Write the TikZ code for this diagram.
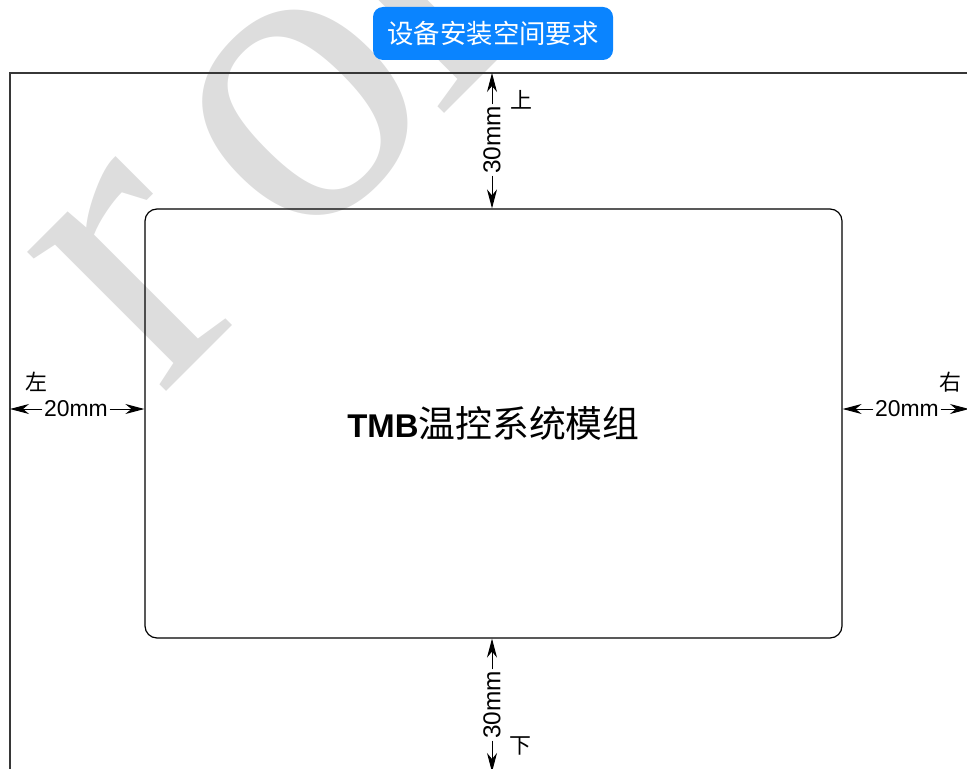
\documentclass[tikz,border=0pt]{standalone}
\usepackage{fontspec}
\usepackage{tikz}
\usetikzlibrary{positioning, arrows.meta, shapes}
\setmainfont{Liberation Sans}
\newfontfamily\cjk{Noto Sans CJK SC}
\newfontfamily\wmfont{Liberation Serif}
\definecolor{titleblue}{RGB}{10,132,255}
\definecolor{framegray}{RGB}{55,55,55}
\definecolor{wmgray}{RGB}{221,221,221}
\tikzset{
  dimline/.style={-{Stealth[length=19bp, width=10bp, inset=6bp]}, line width=1bp},
  dimlabel/.style={inner sep=1.5bp, font=\fontsize{23}{23}\selectfont},
  sidelabel/.style={inner sep=0pt, font=\cjk\fontsize{22}{22}\selectfont}
}

\begin{document}
\begin{tikzpicture}[x=1bp, y=-1bp]
            \useasboundingbox (0,0) rectangle (967,769);
            \node[text=wmgray, font=\wmfont\fontsize{430}{430}\selectfont, rotate=45, anchor=base west, inner sep=0pt] (wm) at (160,398) {r\kern55bp o\kern-18bp l};

            \coordinate (framecorner) at (10,73);
            \coordinate (frametop) at (492,73);
            \coordinate (framebottom) at (492,772);
            \coordinate (frameleft) at (10,409);
            \coordinate (frameright) at (969,409);
            \draw[framegray, line width=1.4bp] (frametop -| frameright) -- (framecorner) -- (framecorner |- framebottom);

            \node[fill=titleblue, rounded corners=10bp, minimum width=240bp, minimum height=53bp, text=white, font=\cjk\fontsize{26.5}{26.5}\selectfont] (title) at (493,33.5) {设备安装空间要求};

            \node[draw, line width=1.2bp, rounded corners=12bp, minimum width=697bp, minimum height=429bp] (module) at (493.5,423.5) {{\fontsize{33}{33}\selectfont\bfseries TMB}{\cjk\fontsize{37}{37}\selectfont 温控系统模组}};

            \node[dimlabel, rotate=90, font=\fontsize{24.5}{24.5}\selectfont] (toplbl) at (492,140) {30mm};
            \node[dimlabel, rotate=90, font=\fontsize{24.5}{24.5}\selectfont] (botlbl) at (492,705) {30mm};
            \node[dimlabel] (leftlbl) at (76,409) {20mm};
            \node[dimlabel] (rightlbl) at (907,409) {20mm};

            \node[sidelabel] (up) at (521,100) {上};
            \node[sidelabel] (down) at (520,746) {下};
            \node[sidelabel] (left) at (36,382) {左};
            \node[sidelabel] (right) at (950,382) {右};

            \draw[dimline] (toplbl.east) -- (frametop);
            \draw[dimline] (toplbl.west) -- (module.north -| toplbl);
            \draw[dimline] (botlbl.east) -- (module.south -| botlbl);
            \draw[dimline] (botlbl.west) -- (framebottom);
            \draw[dimline] (leftlbl.west) -- (frameleft);
            \draw[dimline] (leftlbl.east) -- (module.west |- leftlbl);
            \draw[dimline] (rightlbl.west) -- (module.east |- rightlbl);
            \draw[dimline] (rightlbl.east) -- (frameright);
        \end{tikzpicture}
\end{document}
